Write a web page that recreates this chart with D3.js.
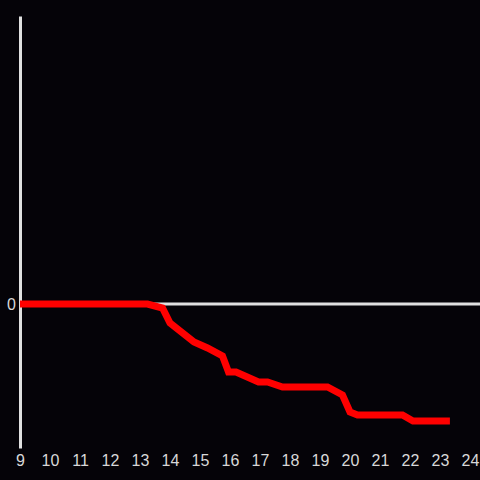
<!DOCTYPE html>
<html>
<head>
<meta charset="utf-8">
<script src="https://cdn.jsdelivr.net/npm/d3@7"></script>
<style>
  html, body { margin: 0; padding: 0; background: #050308; }
  svg { display: block; }
</style>
</head>
<body>
<div id="chart"></div>
<script>
// hours of the day (x) and cumulative change (y)
const hours  = [9, 13.25, 13.75, 14, 14.8, 15.25, 15.75, 15.95, 16.2, 16.95, 17.25, 17.75, 19.25, 19.75, 20, 20.25, 21.75, 22.1, 23.33];
const values = [0, 0, -4, -19, -38, -44, -52, -68, -68, -78, -78, -83, -83, -91, -108, -111, -111, -117, -117];
const xTicks = [9, 10, 11, 12, 13, 14, 15, 16, 17, 18, 19, 20, 21, 22, 23, 24];
const yTicks = [0];

const W = 480, H = 480;
const svg = d3.select('#chart').append('svg')
  .attr('width', W)
  .attr('height', H);

const x = d3.scaleLinear().domain([9, 24]).range([20, 470]);
const y = d3.scaleLinear().domain([-144, 288]).range([448, 16]);

// zero line
svg.append('line')
  .attr('x1', x(9)).attr('x2', W)
  .attr('y1', y(0)).attr('y2', y(0))
  .attr('stroke', '#e0e0e0')
  .attr('stroke-width', 3);

// y axis
const yAxis = svg.append('g')
  .attr('transform', `translate(${x(9)},0)`)
  .call(d3.axisLeft(y).tickValues(yTicks).tickSize(0).tickSizeOuter(0).tickPadding(4));
yAxis.select('.domain').attr('stroke', '#e0e0e0').attr('stroke-width', 3);

// x axis (labels only)
const xAxis = svg.append('g')
  .attr('transform', `translate(0,${y(-144)})`)
  .call(d3.axisBottom(x).tickValues(xTicks).tickSize(0).tickPadding(7));
xAxis.select('.domain').remove();

svg.selectAll('.tick text')
  .attr('fill', '#d8d8d8')
  .attr('font-family', '"Liberation Sans", Arial, sans-serif')
  .attr('font-size', 16);

// series line
const line = d3.line()
  .x((d, i) => x(hours[i]))
  .y(d => y(d));

svg.append('path')
  .datum(values)
  .attr('fill', 'none')
  .attr('stroke', '#ff0000')
  .attr('stroke-width', 7)
  .attr('d', line);
</script>
</body>
</html>
